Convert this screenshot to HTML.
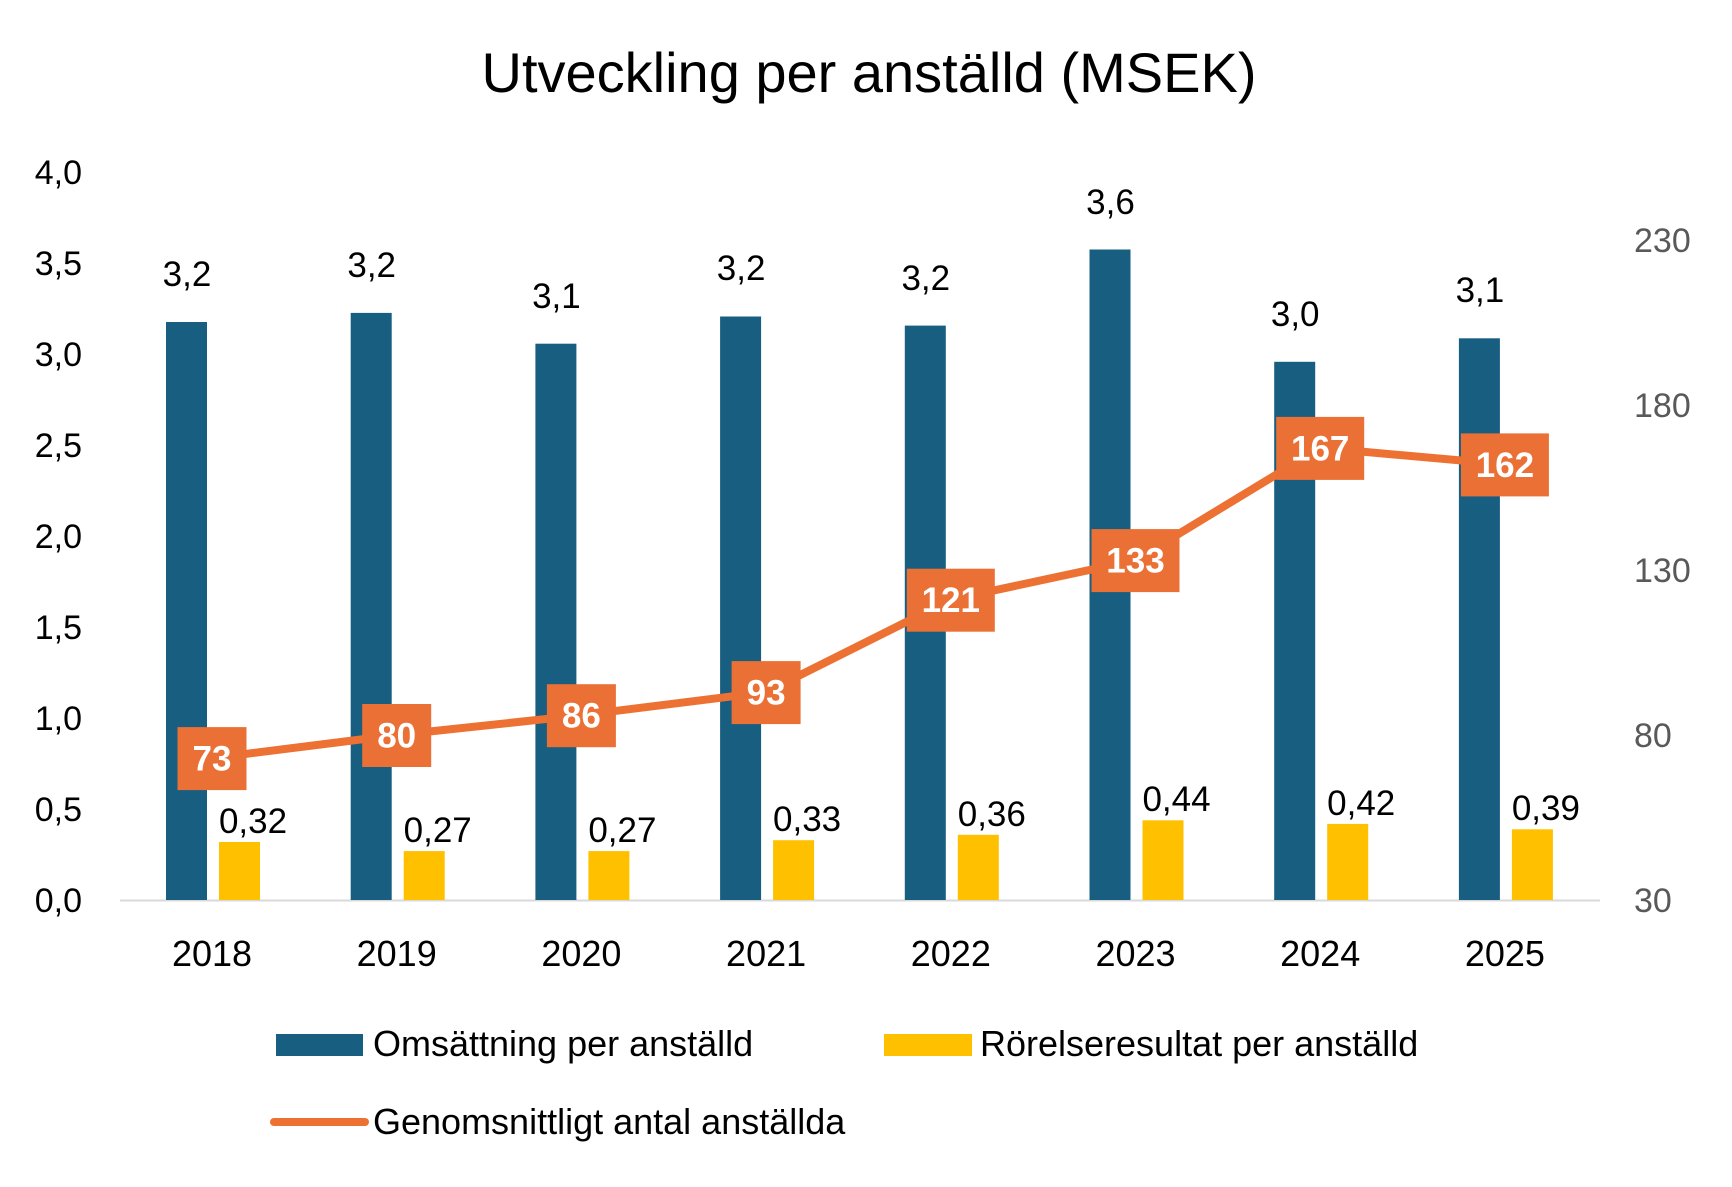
<!DOCTYPE html>
<html><head><meta charset="utf-8"><style>body{margin:0;background:#fff}svg{display:block}</style></head><body>
<svg width="1732" height="1187" xmlns="http://www.w3.org/2000/svg" font-family="Liberation Sans, sans-serif">
<rect width="1732" height="1187" fill="#fff"/>
<text x="869" y="92" font-size="56" text-anchor="middle" fill="#000">Utveckling per anställd (MSEK)</text>
<g font-size="34" fill="#000" text-anchor="end">
<text x="82" y="912">0,0</text><text x="82" y="821">0,5</text><text x="82" y="730">1,0</text><text x="82" y="639">1,5</text><text x="82" y="548">2,0</text><text x="82" y="457">2,5</text><text x="82" y="366">3,0</text><text x="82" y="275">3,5</text><text x="82" y="184">4,0</text>
</g>
<g font-size="34" fill="#595959" text-anchor="start">
<text x="1634" y="912">30</text><text x="1634" y="747">80</text><text x="1634" y="582">130</text><text x="1634" y="417">180</text><text x="1634" y="252">230</text>
</g>
<line x1="120" y1="900.5" x2="1600" y2="900.5" stroke="#d9d9d9" stroke-width="2"/>
<g fill="#175e80">
<rect x="166" y="322" width="41" height="578"/>
<rect x="350.7" y="312.9" width="41" height="587.1"/>
<rect x="535.4" y="343.7" width="41" height="556.3"/>
<rect x="720.1" y="316.5" width="41" height="583.5"/>
<rect x="904.8" y="325.6" width="41" height="574.4"/>
<rect x="1089.5" y="249.5" width="41" height="650.5"/>
<rect x="1274.2" y="361.8" width="41" height="538.2"/>
<rect x="1458.9" y="338.3" width="41" height="561.7"/>
</g>
<g fill="#ffc000">
<rect x="219" y="842" width="41" height="58"/>
<rect x="403.7" y="851.1" width="41" height="48.9"/>
<rect x="588.4" y="851.1" width="41" height="48.9"/>
<rect x="773.1" y="840.2" width="41" height="59.8"/>
<rect x="957.8" y="834.8" width="41" height="65.2"/>
<rect x="1142.5" y="820.3" width="41" height="79.7"/>
<rect x="1327.2" y="823.9" width="41" height="76.1"/>
<rect x="1511.9" y="829.3" width="41" height="70.7"/>
</g>
<g font-size="35" fill="#000" text-anchor="middle">
<text x="187" y="286">3,2</text>
<text x="371.7" y="277">3,2</text>
<text x="556.4" y="308">3,1</text>
<text x="741.1" y="280">3,2</text>
<text x="925.8" y="290">3,2</text>
<text x="1110.5" y="214">3,6</text>
<text x="1295.2" y="326">3,0</text>
<text x="1479.9" y="302">3,1</text>
<text x="253" y="833">0,32</text>
<text x="437.7" y="842">0,27</text>
<text x="622.4" y="842">0,27</text>
<text x="807.1" y="831">0,33</text>
<text x="991.8" y="826">0,36</text>
<text x="1176.5" y="811">0,44</text>
<text x="1361.2" y="815">0,42</text>
<text x="1545.9" y="820">0,39</text>
</g>
<g font-size="36" fill="#000" text-anchor="middle">
<text x="212" y="966">2018</text>
<text x="396.7" y="966">2019</text>
<text x="581.4" y="966">2020</text>
<text x="766.1" y="966">2021</text>
<text x="950.8" y="966">2022</text>
<text x="1135.5" y="966">2023</text>
<text x="1320.2" y="966">2024</text>
<text x="1504.9" y="966">2025</text>
</g>
<polyline points="212,758.1 396.7,735 581.4,715.2 766.1,692.1 950.8,599.7 1135.5,560.1 1320.2,447.9 1504.9,464.4" fill="none" stroke="#ec7133" stroke-width="8"/>
<g fill="#ea7035">
<rect x="177.5" y="727.1" width="69" height="63"/>
<rect x="362.2" y="704" width="69" height="63"/>
<rect x="546.9" y="684.2" width="69" height="63"/>
<rect x="731.6" y="661.1" width="69" height="63"/>
<rect x="906.8" y="568.7" width="88" height="63"/>
<rect x="1091.5" y="529.1" width="88" height="63"/>
<rect x="1276.2" y="416.9" width="88" height="63"/>
<rect x="1460.9" y="433.4" width="88" height="63"/>
</g>
<g font-size="35" font-weight="bold" fill="#fff" text-anchor="middle">
<text x="212" y="770.6">73</text>
<text x="396.7" y="747.5">80</text>
<text x="581.4" y="727.7">86</text>
<text x="766.1" y="704.6">93</text>
<text x="950.8" y="612.2">121</text>
<text x="1135.5" y="572.6">133</text>
<text x="1320.2" y="460.4">167</text>
<text x="1504.9" y="476.9">162</text>
</g>
<rect x="276" y="1034" width="87" height="22" fill="#175e80"/>
<text x="373" y="1056" font-size="36">Omsättning per anställd</text>
<rect x="884" y="1034" width="88" height="22" fill="#ffc000"/>
<text x="980" y="1056" font-size="36">Rörelseresultat per anställd</text>
<line x1="274" y1="1122" x2="365" y2="1122" stroke="#ec7133" stroke-width="8" stroke-linecap="round"/>
<text x="373" y="1134" font-size="36">Genomsnittligt antal anställda</text>
</svg>
</body></html>
